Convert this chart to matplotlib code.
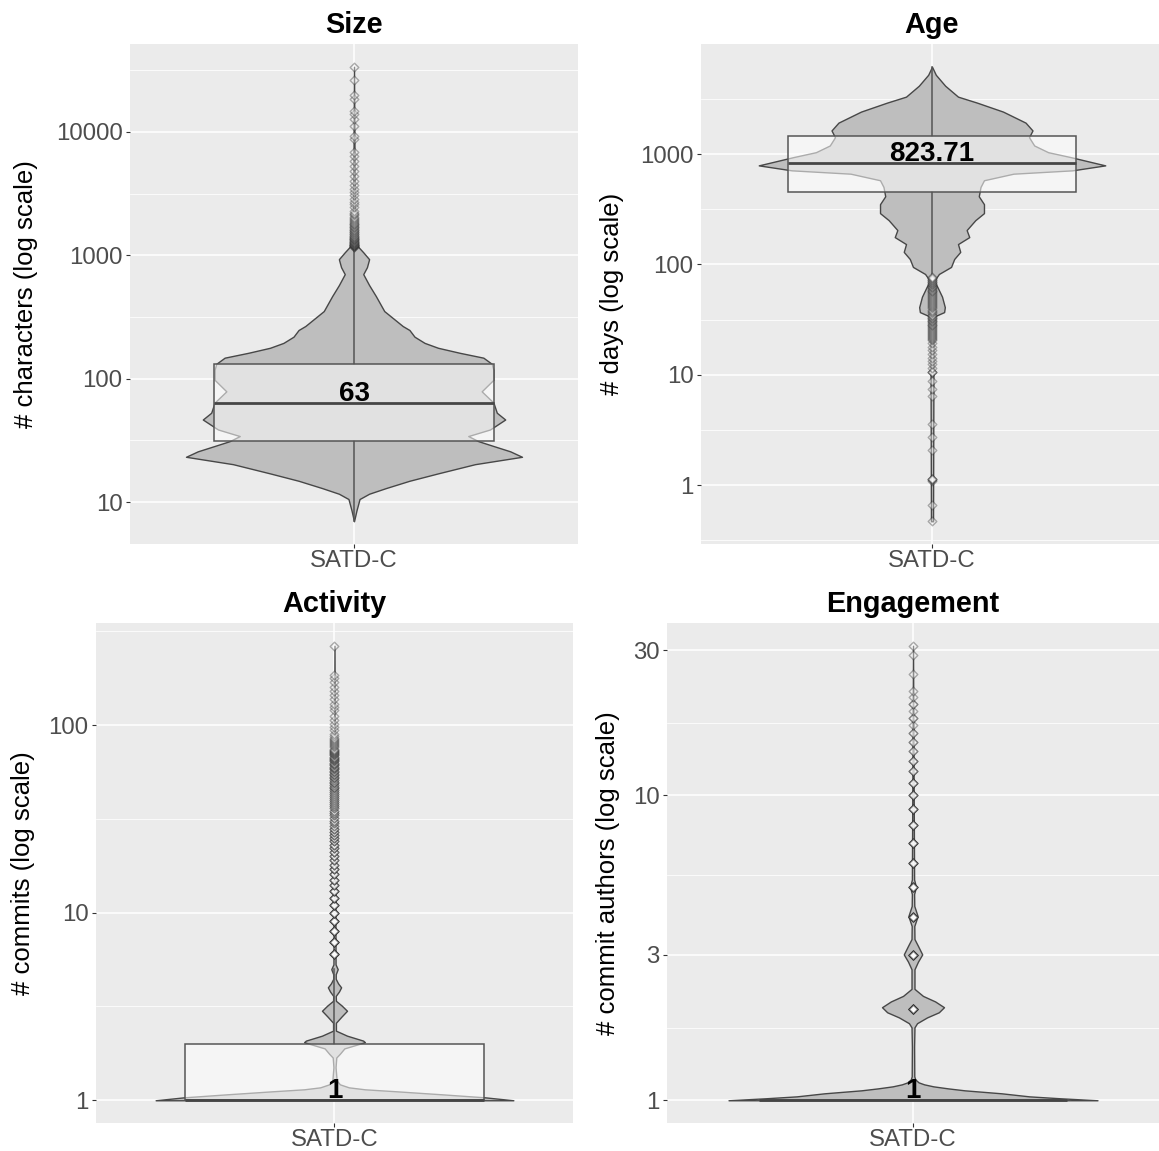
import numpy as np
import matplotlib
matplotlib.use("Agg")
import matplotlib.pyplot as plt
from matplotlib.patches import Rectangle
from matplotlib.ticker import FixedLocator, NullFormatter

plt.rcParams["font.family"] = ["Liberation Sans", "DejaVu Sans"]

# =========================
# DATA
# =========================
category = "SATD-C"
titles = ["Size", "Age", "Activity", "Engagement"]
ylabels = ["# characters (log scale)", "# days (log scale)",
           "# commits (log scale)", "# commit authors (log scale)"]

size_ticks = [10, 100, 1000, 10000]
age_ticks = [1, 10, 100, 1000]
activity_ticks = [1, 10, 100]
engagement_ticks = [1, 3, 10, 30]

# box stats: q1, median, q3, lower whisker, upper whisker
size_box = [31, 63, 132, 7, 1160]
age_box = [454, 823.71, 1453, 79, 6200]
activity_box = [1, 1, 2, 1, 5]
engagement_box = [1, 1, 1, 1, 1]

# violin outline: value and relative half-width (1 = widest)
size_violin_y = [7.0, 8.6, 10.6, 11.7, 13.0, 14.9, 17.1, 20.3, 23.3, 25.8, 28.5, 31.2,
                 34.3, 38.8, 46.7, 53, 64, 79, 98, 118, 132, 148, 162, 178, 195, 219,
                 248, 267, 353, 467, 573, 703, 800, 929, 1057, 1183, 1260, 33650]
size_violin_w = [0, 0.015, 0.033, 0.09, 0.19, 0.33, 0.5, 0.72, 1.0, 0.93, 0.83, 0.74,
                 0.68, 0.81, 0.90, 0.85, 0.83, 0.76, 0.83, 0.83, 0.82, 0.77, 0.63, 0.5, 0.42, 0.36,
                 0.33, 0.29, 0.18, 0.13, 0.09, 0.055, 0.077, 0.09, 0.055, 0.022, 0.006, 0]

age_violin_y = [0.47, 28, 34, 37, 41, 51, 63, 71, 82, 95, 112, 130, 153, 177, 205, 252,
                292, 352, 415, 504, 580, 665, 713, 791, 940, 1042, 1198, 1423, 1640, 1930,
                2430, 2930, 3320, 4170, 5240, 6200]
age_violin_w = [0.006, 0.009, 0.017, 0.07, 0.074, 0.058, 0.03, 0.012, 0.04, 0.11, 0.128,
                0.163, 0.15, 0.215, 0.20, 0.25, 0.30, 0.30, 0.27, 0.28, 0.30, 0.47, 0.81, 1.0,
                0.80, 0.67, 0.59, 0.56, 0.58, 0.54, 0.41, 0.26, 0.15, 0.076, 0.022, 0]

activity_violin_y = [1.0, 1.037, 1.076, 1.116, 1.144, 1.172, 1.216, 1.277, 1.5, 1.69, 1.77,
                     1.89, 1.96, 2.04, 2.08, 2.21, 2.35, 2.59, 2.8, 3.0, 3.2, 3.39, 3.6, 3.8,
                     4.0, 4.2, 4.44, 4.7, 5.0, 5.3, 265]
activity_violin_w = [1.0, 0.84, 0.6, 0.35, 0.17, 0.08, 0.03, 0.012, 0.006, 0.01, 0.03,
                     0.055, 0.11, 0.17, 0.16, 0.07, 0.008, 0.008, 0.04, 0.07, 0.04, 0.008, 0.007,
                     0.025, 0.037, 0.02, 0.007, 0.007, 0.018, 0.006, 0]

engagement_violin_y = [1.0, 1.015, 1.030, 1.054, 1.078, 1.094, 1.111, 1.128, 1.145, 1.171,
                       1.198, 1.5, 1.735, 1.79, 1.87, 1.944, 2.02, 2.11, 2.20, 2.32, 2.69,
                       2.85, 3.01, 3.21, 3.38, 3.73, 4.02, 4.34, 4.75, 5.01, 5.3, 31]
engagement_violin_w = [1.0, 0.8, 0.63, 0.48, 0.28, 0.19, 0.11, 0.06, 0.03, 0.012,
                       0.007, 0.006, 0.008, 0.022, 0.076, 0.14, 0.168, 0.12, 0.054, 0.008, 0.008,
                       0.027, 0.05, 0.027, 0.008, 0.007, 0.025, 0.007, 0.006, 0.016, 0.006, 0]

# outliers
size_outliers = [1170, 1175, 1180, 1185, 1190, 1195, 1200, 1205, 1210, 1215, 1220, 1230,
                 1235, 1240, 1250, 1255, 1260, 1270, 1280, 1290, 1300, 1310, 1320, 1330, 1345,
                 1350, 1365, 1380, 1390, 1400, 1415, 1430, 1445, 1460, 1480, 1500, 1515, 1530,
                 1550, 1570, 1590, 1610, 1630, 1650, 1680, 1700, 1730, 1750, 1780, 1800, 1830,
                 1860, 1890, 1920, 1960, 2000, 2050, 2100, 2150, 2200, 2300, 2450, 2600, 2690,
                 2850, 3050, 3250, 3450, 3700, 4030, 4420, 4845, 5320, 5830, 6400, 6810, 8790,
                 9170, 11040, 12740, 13960, 14770, 18450, 19860, 26240, 33650]
age_outliers = [0.47, 0.66, 1.1, 1.12, 1.13, 1.13, 1.14, 2.07, 2.72, 3.57, 6.4, 7.4, 8.7,
                10.5, 10.6, 10.7, 11.5, 12.4, 13.2, 14.3, 15.5, 16.9, 18, 19.5, 20.5, 21, 21.5,
                22, 22.5, 23, 23.5, 24, 24.5, 25, 25.5, 26, 26.5, 27, 27.5, 28, 28.5, 29, 29.5,
                30, 30.5, 31, 31.5, 32, 32.5, 33, 33.5, 34, 34.5, 35, 36, 37, 38, 39, 40, 41,
                42, 43, 44, 45, 46, 47, 48, 49, 50, 51, 52, 53, 54, 55, 56, 57, 58, 59, 60, 61,
                62, 63, 64, 65, 66, 67, 68, 69, 70, 71, 72, 73, 74, 75, 76, 77]
activity_outliers = [6, 7, 8, 9, 10, 11, 12, 13, 14, 15, 16, 17, 18, 19, 20, 21, 22, 23, 24,
                     25, 26, 27, 28, 29, 30, 31, 32, 33, 34, 35, 36, 37, 38, 39, 40, 41, 42, 43,
                     44, 45, 46, 47, 48, 49, 50, 51, 52, 53, 54, 55, 56, 57, 58, 59, 60, 61, 62,
                     63, 64, 65, 66, 67, 68, 69, 70, 71, 72, 73, 74, 75, 76, 77, 78, 79, 80, 81,
                     82, 83, 84, 85, 88, 90, 94, 98, 102, 107, 112, 120, 125, 130, 137, 145, 152,
                     160, 170, 178, 185, 265]
activity_outlier_n = [8, 8, 7, 7, 6, 6, 5, 5, 4, 4, 4, 4, 3, 3, 3, 3, 3, 3, 3,
                      3, 3, 3, 3, 2, 2, 2, 2, 2, 2, 2, 2, 2, 2, 2, 2, 2, 2, 2,
                      2, 2, 2, 2, 2, 2, 2, 2, 2, 2, 2, 2, 2, 2, 2, 2, 2, 2, 2,
                      2, 2, 2, 2, 2, 2, 2, 2, 2, 2, 2, 2, 1, 1, 1, 1, 1, 1, 1,
                      1, 1, 1, 1, 1, 1, 1, 1, 1, 1, 1, 1, 1, 1, 1, 1, 1,
                      1, 1, 1, 1, 1]
engagement_outliers = [2, 3, 4, 5, 6, 7, 8, 9, 10, 11, 12, 13, 14, 15, 16, 17, 18, 19, 20,
                       21, 22, 25, 29, 31]
engagement_outlier_n = [12, 10, 8, 7, 6, 6, 5, 5, 4, 4, 3, 3, 2, 2, 2, 1, 2, 1, 2,
                        1, 1, 1, 1, 1]

# =========================
# LAYOUT (pixel boxes: left, top, right, bottom) and ylabel x centre
# =========================
W, H = 1159, 1151
panel_px = [(130, 44, 578, 544), (701, 44, 1163, 544),
            (96, 623, 573, 1123), (667, 623, 1159, 1123)]
ylabel_x = [26, 612, 23, 608]

fig = plt.figure(figsize=(W / 100, H / 100), dpi=100)
fig.patch.set_facecolor("white")


def draw_panel(ax, vy, vw, box, outliers, counts, ticks):
    vy = np.asarray(vy, dtype=float)
    hw = np.asarray(vw, dtype=float) * 0.45
    ax.fill_betweenx(vy, 1 - hw, 1 + hw, facecolor="#BEBEBE", edgecolor="#474747",
                     lw=1.0, zorder=2)

    q1, med, q3, lo, hi = box
    ax.plot([1, 1], [q3, hi], color="#555555", lw=1.1, zorder=3)
    ax.plot([1, 1], [lo, q1], color="#555555", lw=1.1, zorder=3)
    ax.add_patch(Rectangle((1 - 0.375, q1), 0.75, q3 - q1, facecolor=(1, 1, 1, 0.55),
                           edgecolor="#555555", lw=1.1, zorder=4))
    ax.plot([1 - 0.375, 1 + 0.375], [med, med], color="#454545", lw=2.0,
            solid_capstyle="butt", zorder=5)

    if counts is None:
        counts = np.ones(len(outliers), dtype=int)
    pts = np.repeat(outliers, counts)
    ax.scatter(np.ones(len(pts)), pts, marker="D", s=19, facecolor="white",
               edgecolor="#2E2E2E", lw=1.0, alpha=0.38, zorder=6)

    ax.annotate(f"{med:g}", (1, med), xytext=(0, 1.5), textcoords="offset points",
                ha="center", va="baseline", fontsize=20, fontweight="bold",
                color="black", zorder=7)

    # axes styling, ggplot look
    ax.set_facecolor("#EBEBEB")
    for s in ax.spines.values():
        s.set_visible(False)
    ax.set_yscale("log")
    lo_all = np.log10(min(vy.min(), min(outliers)))
    hi_all = np.log10(max(vy.max(), max(outliers)))
    pad = (hi_all - lo_all) * 0.05
    ax.set_ylim(10 ** (lo_all - pad), 10 ** (hi_all + pad))
    ax.set_xlim(0.4, 1.6)

    ax.set_yticks(ticks, labels=[f"{t:g}" for t in ticks])
    t = np.log10(ticks)
    mids = list((t[:-1] + t[1:]) / 2)
    mids = [t[0] - (t[1] - t[0]) / 2] + mids + [t[-1] + (t[-1] - t[-2]) / 2]
    ax.yaxis.set_minor_locator(FixedLocator(10 ** np.array(mids)))
    ax.yaxis.set_minor_formatter(NullFormatter())
    ax.set_xticks([1], labels=[category])

    ax.grid(True, which="major", color="white", lw=1.1)
    ax.grid(True, which="minor", axis="y", color="white", lw=0.55)
    ax.set_axisbelow(True)
    ax.tick_params(which="major", length=2.9, width=0.8, color="#333333",
                   labelcolor="#4D4D4D", labelsize=17.3, pad=2.5)
    ax.tick_params(axis="x", pad=1.5)
    ax.tick_params(which="minor", length=0)


violins_y = [size_violin_y, age_violin_y, activity_violin_y, engagement_violin_y]
violins_w = [size_violin_w, age_violin_w, activity_violin_w, engagement_violin_w]
boxes = [size_box, age_box, activity_box, engagement_box]
outs = [size_outliers, age_outliers, activity_outliers, engagement_outliers]
outs_n = [None, None, activity_outlier_n, engagement_outlier_n]
ticks_all = [size_ticks, age_ticks, activity_ticks, engagement_ticks]

for i in range(4):
    l, t_, r, b = panel_px[i]
    ax = fig.add_axes([l / W, 1 - b / H, (r - l) / W, (b - t_) / H])
    draw_panel(ax, violins_y[i], violins_w[i], boxes[i], outs[i], outs_n[i], ticks_all[i])
    ax.set_title(titles[i], fontsize=20.8, fontweight="bold", pad=8)
    ax.set_ylabel(ylabels[i], fontsize=18.5, color="black", va="center")
    ax.yaxis.set_label_coords((ylabel_x[i] - l) / (r - l), 0.5)

fig.savefig("out.png", dpi=100)
